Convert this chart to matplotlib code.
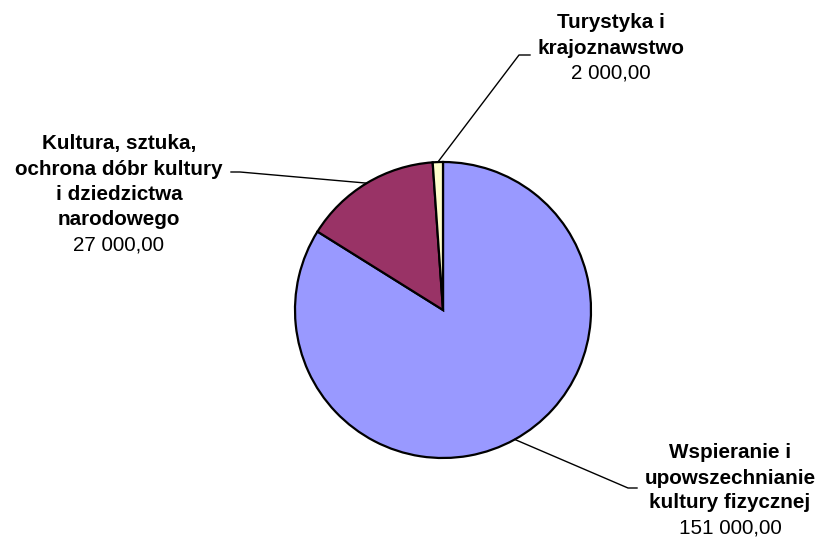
import matplotlib
matplotlib.use("Agg")
import matplotlib.pyplot as plt
import numpy as np

plt.rcParams['font.family'] = ['Liberation Sans', 'DejaVu Sans']

categories = ["Wspieranie i\nupowszechnianie\nkultury fizycznej",
              "Kultura, sztuka,\nochrona dóbr kultury\ni dziedzictwa\nnarodowego",
              "Turystyka i\nkrajoznawstwo"]
values = [151000, 27000, 2000]
value_labels = ["151 000,00", "27 000,00", "2 000,00"]
colors = ["#9999FF", "#993366", "#FFFFCC"]

W, H = 823, 543
fig = plt.figure(figsize=(W / 100, H / 100), dpi=100)
ax = fig.add_axes([0, 0, 1, 1])

cx, cy, R = 443, H - 310, 148
wedges, _ = ax.pie(values, colors=colors, startangle=90, counterclock=False,
                   center=(cx, cy), radius=R,
                   wedgeprops=dict(edgecolor='black', linewidth=1.6))
ax.set_xlim(0, W)
ax.set_ylim(0, H)
ax.set_aspect('equal')
ax.axis('off')

# label layout: text center x, first line center y (pixels), line step, leader elbow/end
layout = [
    dict(tx=730, ty=453, step=25, elbow=(628, 488), end=(637, 488)),
    dict(tx=119, ty=144, step=25.3, elbow=(240, 172), end=(231, 172)),
    dict(tx=611, ty=23, step=25, elbow=(519, 55), end=(530, 55)),
]

for w, cat, vl, lay in zip(wedges, categories, value_labels, layout):
    mid = np.deg2rad((w.theta1 + w.theta2) / 2)
    px, py = cx + R * np.cos(mid), cy + R * np.sin(mid)
    ex, ey = lay['elbow']
    fx, fy = lay['end']
    ax.plot([px, ex, fx], [py, H - ey, H - fy], color='black', lw=1)
    lines = cat.split("\n")
    for i, ln in enumerate(lines):
        ax.text(lay['tx'], H - (lay['ty'] + i * lay['step']), ln,
                ha='center', va='center', fontsize=14.9, fontweight='bold')
    ax.text(lay['tx'], H - (lay['ty'] + len(lines) * lay['step']), vl,
            ha='center', va='center', fontsize=14.9)

fig.savefig("out.png", dpi=100)
